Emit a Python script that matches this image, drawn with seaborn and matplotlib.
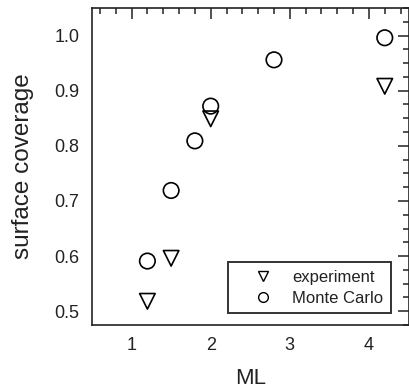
import pandas as pd
import seaborn as sns
import matplotlib
matplotlib.use('Agg')
import matplotlib.pyplot as plt
from matplotlib.ticker import MultipleLocator

# Valores
ml_experimento = [1.2, 1.5, 2.0, 4.2]
cobertura_experimento = [0.518, 0.596, 0.849, 0.908]

ml_monte_carlo = [1.2, 1.5, 1.8, 2.0, 2.8, 4.2]
cobertura_monte_carlo = [0.591, 0.719, 0.809, 0.872, 0.956, 0.996]

series = ['experiment', 'Monte Carlo']

df = pd.concat([
    pd.DataFrame({'ML': ml_experimento, 'cobertura': cobertura_experimento, 'serie': series[0]}),
    pd.DataFrame({'ML': ml_monte_carlo, 'cobertura': cobertura_monte_carlo, 'serie': series[1]}),
], ignore_index=True)

sns.set_style('white')
plt.rcParams['font.family'] = ['Liberation Sans', 'DejaVu Sans']

fig = plt.figure(figsize=(4.09, 3.90), dpi=100)
ax = fig.add_axes([92 / 409, 1 - 325 / 390, 316.5 / 409, 317 / 390])

sns.scatterplot(data=df, x='ML', y='cobertura', style='serie',
                markers={'experiment': 'v', 'Monte Carlo': 'o'},
                facecolors='none', edgecolor='black', linewidth=1.2,
                s=125, ax=ax, legend=False)

ax.set_xlim(0.5, 4.5)
ax.set_ylim(0.475, 1.05)
ax.xaxis.set_major_locator(MultipleLocator(1))
ax.xaxis.set_minor_locator(MultipleLocator(0.2))
ax.yaxis.set_major_locator(MultipleLocator(0.1))
ax.yaxis.set_minor_locator(MultipleLocator(0.025))
ax.yaxis.set_major_formatter(matplotlib.ticker.FormatStrFormatter('%.1f'))

ax.tick_params(which='both', direction='in', top=True, right=True, colors='#222222',
               labelsize=13, width=1.1)
ax.tick_params(which='major', length=8, pad=9)
ax.tick_params(which='minor', length=4)
for lado in ax.spines.values():
    lado.set_color('#222222')
    lado.set_linewidth(1.2)

ax.set_xlabel('ML', fontsize=16, labelpad=10, color='#222222')
ax.set_ylabel('surface coverage', fontsize=17.5, labelpad=15, color='#222222')

# legenda
h_exp = plt.Line2D([], [], marker='v', ls='none', mfc='none', mec='black', ms=7)
h_mc = plt.Line2D([], [], marker='o', ls='none', mfc='none', mec='black', ms=7)
leg = ax.legend([h_exp, h_mc], series, loc='lower right', bbox_to_anchor=(0.945, 0.037),
                borderaxespad=0, fontsize=12, frameon=True, fancybox=False,
                edgecolor='black', handlelength=3.3, handletextpad=0.1,
                borderpad=0.45, labelspacing=0.35)
leg.get_frame().set_linewidth(1.4)
for t in leg.get_texts():
    t.set_color('#222222')

plt.savefig('out.png', dpi=100)
